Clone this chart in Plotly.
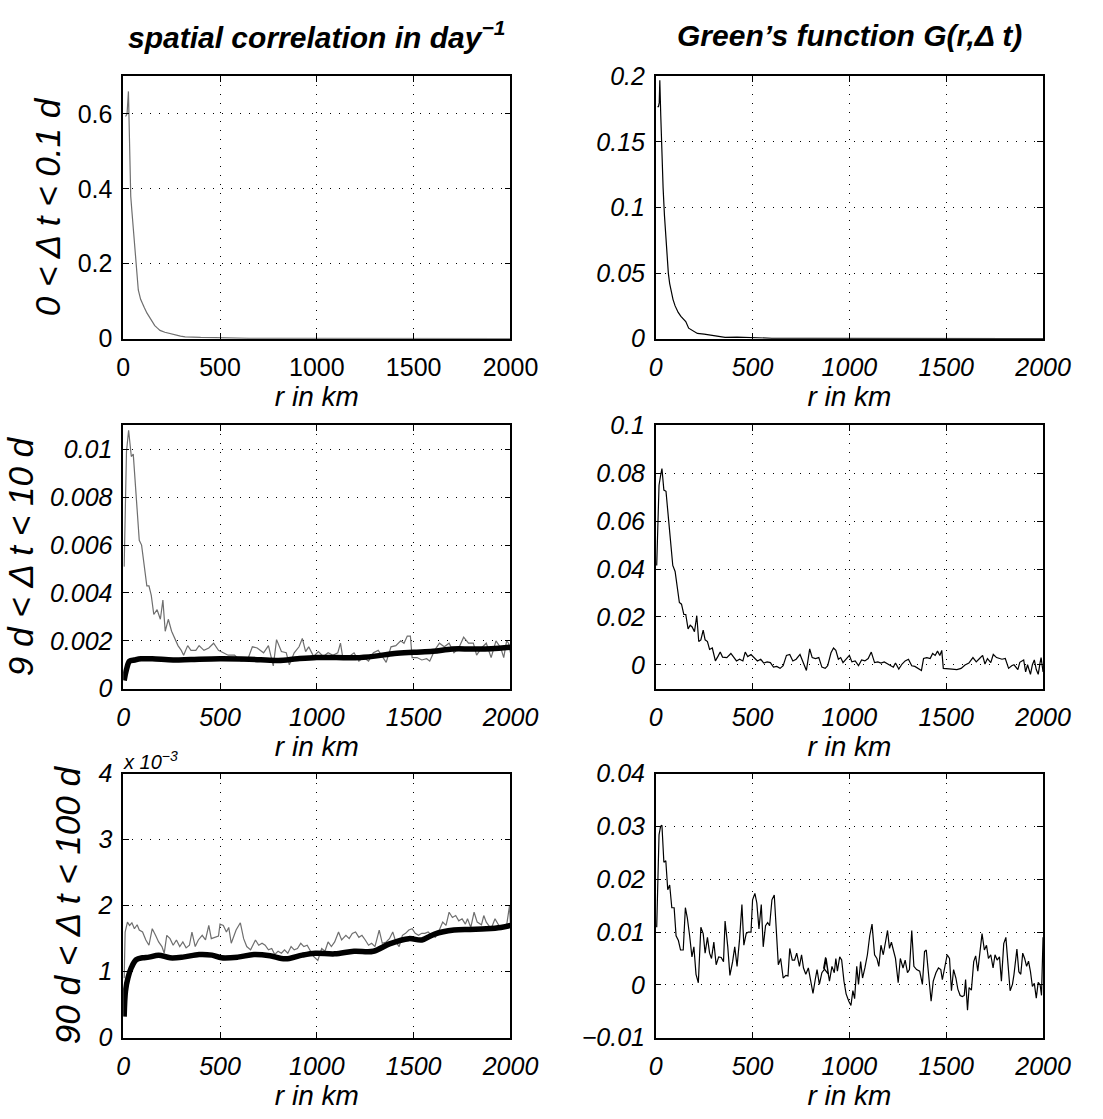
import plotly.graph_objects as go
from plotly.subplots import make_subplots

# ---------------- data ----------------
# Row 1 (0 < dt < 0.1 d)
r_row1_corr = [12, 20, 27, 33, 39, 45, 51, 58, 66, 72, 78, 90, 100, 110, 123, 137, 150, 163, 177, 190, 215, 243, 270, 296, 320, 350, 400, 474, 550, 650, 800, 1000, 1200, 1400, 1600, 1800, 2000]
corr_row1 = [0.593, 0.60, 0.66, 0.50, 0.38, 0.34, 0.30, 0.25, 0.20, 0.16, 0.13, 0.105, 0.092, 0.082, 0.068, 0.056, 0.046, 0.035, 0.028, 0.022, 0.017, 0.013, 0.010, 0.007, 0.005, 0.004, 0.0035, 0.003, 0.002, 0.001, 0.0007, 0.0005, 0.0004, 0.0004, 0.0003, 0.0003, 0.0003]
r_row1_g = [9, 14, 18, 21, 26, 32, 38, 45, 52, 59, 65, 72, 80, 89, 100, 116, 130, 143, 155, 170, 190, 215, 250, 286, 320, 358, 420, 500, 600, 800, 1000, 1200, 1400, 1600, 1800, 2000]
g_row1 = [0.177, 0.177, 0.180, 0.197, 0.170, 0.136, 0.115, 0.094, 0.075, 0.059, 0.050, 0.042, 0.036, 0.030, 0.025, 0.020, 0.017, 0.015, 0.013, 0.008, 0.006, 0.004, 0.0035, 0.0025, 0.002, 0.001, 0.0012, 0.0007, 0.0003, 0.0002, 0.0001, 0.0001, 0.0001, 0.0001, 0.0001, 0.0001]

# Row 2 (9 d < dt < 10 d)
r_row2_corr = [5, 17, 28, 42, 52, 67, 83, 95, 108, 122, 133, 145, 158, 175, 192, 205, 217, 233, 250, 267, 283, 300, 312, 333, 350, 375, 392, 417, 442, 467, 492, 517, 542, 575, 608, 642, 667, 692, 725, 750, 775, 792, 817, 842, 858, 883, 908, 925, 942, 958, 983, 1008, 1033, 1058, 1083, 1108, 1122, 1133, 1167, 1192, 1217, 1242, 1267, 1292, 1317, 1342, 1358, 1383, 1408, 1433, 1450, 1467, 1483, 1492, 1517, 1542, 1567, 1583, 1608, 1633, 1658, 1683, 1708, 1733, 1758, 1783, 1808, 1825, 1850, 1875, 1900, 1925, 1950, 1965, 1980, 1990, 2000]
corr_row2 = [0.0051, 0.0099, 0.0108, 0.0097, 0.0098, 0.0079, 0.0062, 0.0060, 0.0052, 0.0043, 0.0043, 0.0039, 0.0031, 0.0033, 0.0029, 0.0037, 0.0024, 0.0029, 0.0024, 0.0021, 0.0018, 0.0016, 0.0014, 0.0018, 0.0016, 0.0016, 0.0018, 0.0016, 0.0017, 0.0019, 0.0016, 0.0015, 0.0014, 0.0014, 0.00115, 0.0012, 0.00175, 0.0017, 0.0015, 0.0018, 0.00095, 0.00205, 0.00155, 0.0015, 0.0010, 0.0015, 0.00175, 0.0021, 0.00155, 0.00175, 0.00135, 0.00155, 0.00135, 0.0015, 0.0014, 0.0015, 0.0019, 0.00135, 0.00135, 0.0015, 0.00115, 0.0013, 0.00115, 0.0015, 0.0016, 0.0013, 0.0011, 0.00175, 0.0018, 0.0020, 0.0019, 0.0022, 0.0022, 0.0013, 0.0013, 0.0012, 0.00125, 0.00115, 0.0016, 0.0019, 0.00175, 0.0019, 0.0015, 0.0017, 0.00215, 0.0019, 0.0019, 0.0014, 0.0017, 0.0019, 0.0013, 0.0020, 0.0017, 0.0013, 0.0020, 0.0019, 0.0015]
r_row2_smooth = [5, 17, 33, 58, 92, 150, 258, 350, 500, 650, 800, 900, 1000, 1100, 1200, 1300, 1400, 1500, 1600, 1700, 1800, 1900, 2000]
smooth_row2 = [0.00034, 0.0008, 0.00115, 0.0012, 0.00125, 0.00125, 0.0012, 0.00122, 0.00125, 0.00123, 0.00118, 0.00125, 0.0013, 0.0013, 0.00129, 0.00136, 0.00147, 0.00152, 0.00156, 0.00166, 0.00166, 0.00167, 0.00173]
r_row2_g = [5, 17, 25, 32, 42, 53, 67, 78, 88, 100, 112, 122, 133, 145, 155, 167, 178, 188, 200, 212, 222, 233, 245, 255, 267, 278, 292, 308, 322, 333, 345, 367, 388, 405, 417, 433, 450, 462, 475, 492, 508, 525, 542, 558, 575, 592, 608, 625, 642, 658, 675, 692, 708, 725, 745, 767, 778, 795, 808, 825, 842, 858, 875, 888, 905, 918, 930, 943, 955, 967, 983, 1000, 1013, 1030, 1047, 1063, 1080, 1097, 1113, 1130, 1147, 1163, 1180, 1197, 1213, 1227, 1238, 1255, 1272, 1288, 1305, 1322, 1338, 1355, 1372, 1383, 1400, 1417, 1430, 1443, 1455, 1467, 1477, 1485, 1505, 1530, 1555, 1577, 1597, 1617, 1638, 1655, 1672, 1688, 1700, 1713, 1730, 1743, 1760, 1788, 1805, 1822, 1838, 1850, 1870, 1880, 1900, 1910, 1920, 1935, 1945, 1955, 1965, 1975, 1985, 1990, 2000]
g_row2 = [0.0415, 0.075, 0.079, 0.082, 0.073, 0.0725, 0.060, 0.051, 0.0415, 0.039, 0.032, 0.026, 0.0253, 0.021, 0.021, 0.015, 0.0165, 0.0158, 0.0138, 0.0205, 0.0097, 0.0104, 0.0145, 0.0104, 0.0097, 0.0064, 0.007, 0.0016, 0.0036, 0.0053, 0.0032, 0.003, 0.0047, 0.003, 0.0016, 0.0023, 0.0016, 0.0053, 0.0034, 0.0043, 0.003, 0.0016, 0.0023, 0.0007, 0.0012, 0.0009, -0.001, -0.0007, -0.0015, -0.0004, 0.0039, 0.0043, 0.0016, 0.0023, 0.0043, -0.0004, -0.0024, 0.0066, 0.003, 0.0026, 0.003, -0.001, -0.0015, -0.0004, 0.005, 0.007, 0.006, 0.0023, 0.003, 0.0009, 0.0023, 0.0039, 0.0012, 0.0016, -0.0004, 0.002, 0.0016, 0.0026, 0.0053, 0.0009, 0.0012, 0.0007, 0.0012, 0.0003, -0.0004, -0.001, 0.0007, -0.0018, 0.0003, 0.0016, 0.0023, -0.0004, -0.0007, -0.0015, -0.0024, 0.0026, 0.003, 0.0026, 0.0047, 0.0039, 0.0057, 0.0039, 0.006, -0.0015, -0.0015, -0.0018, -0.002, -0.0015, -0.0001, 0.0007, 0.003, 0.0012, 0.0026, 0.0039, 0.0003, 0.0026, 0.0009, 0.0043, 0.003, 0.0023, 0.0026, -0.0015, -0.0004, 0.0, -0.002, 0.001, 0.002, -0.003, 0.0, -0.004, 0.0, 0.002, -0.002, -0.004, 0.001, 0.003, -0.003]

# Row 3 (90 d < dt < 100 d); correlation in units of 1e-3
r_row3_corr = [5, 10, 22, 33, 45, 58, 72, 83, 100, 117, 133, 150, 167, 183, 200, 212, 225, 242, 258, 275, 292, 308, 325, 342, 355, 372, 388, 408, 425, 442, 455, 475, 492, 500, 517, 533, 545, 558, 583, 605, 622, 638, 658, 683, 700, 717, 733, 750, 767, 783, 800, 817, 833, 850, 867, 883, 900, 917, 933, 950, 967, 983, 1005, 1025, 1042, 1058, 1075, 1092, 1112, 1128, 1150, 1167, 1183, 1200, 1217, 1233, 1250, 1267, 1283, 1300, 1322, 1338, 1358, 1375, 1392, 1408, 1425, 1442, 1458, 1475, 1492, 1508, 1525, 1542, 1558, 1575, 1592, 1612, 1628, 1650, 1667, 1683, 1700, 1717, 1733, 1750, 1767, 1778, 1795, 1812, 1828, 1850, 1862, 1875, 1900, 1920, 1940, 1960, 1980, 1995, 2000]
corr_row3 = [0.9, 1.6, 1.75, 1.70, 1.74, 1.65, 1.71, 1.63, 1.60, 1.48, 1.40, 1.65, 1.55, 1.45, 1.38, 1.28, 1.55, 1.50, 1.40, 1.48, 1.38, 1.45, 1.36, 1.40, 1.60, 1.38, 1.48, 1.55, 1.48, 1.70, 1.50, 1.52, 1.54, 1.72, 1.70, 1.60, 1.67, 1.43, 1.63, 1.74, 1.50, 1.38, 1.33, 1.48, 1.40, 1.43, 1.40, 1.33, 1.35, 1.26, 1.31, 1.28, 1.33, 1.28, 1.38, 1.33, 1.35, 1.43, 1.38, 1.40, 1.31, 1.23, 1.17, 1.35, 1.31, 1.45, 1.38, 1.45, 1.60, 1.48, 1.55, 1.50, 1.58, 1.60, 1.52, 1.55, 1.48, 1.40, 1.43, 1.38, 1.63, 1.43, 1.45, 1.50, 1.60, 1.45, 1.38, 1.55, 1.58, 1.63, 1.65, 1.58, 1.55, 1.58, 1.58, 1.60, 1.55, 1.52, 1.60, 1.75, 1.70, 1.90, 1.82, 1.85, 1.77, 1.80, 1.72, 1.80, 1.67, 1.90, 1.75, 1.71, 1.85, 1.75, 1.65, 1.80, 1.70, 1.65, 1.70, 2.0, 1.70]
r_row3_smooth = [5, 12, 25, 42, 67, 100, 133, 183, 242, 308, 392, 458, 508, 592, 675, 758, 817, 858, 925, 992, 1092, 1192, 1292, 1375, 1475, 1542, 1608, 1708, 1792, 1875, 1950, 2000]
smooth_row3 = [0.32, 0.71, 0.91, 1.06, 1.18, 1.21, 1.22, 1.25, 1.21, 1.22, 1.26, 1.25, 1.21, 1.22, 1.26, 1.24, 1.20, 1.20, 1.25, 1.28, 1.27, 1.31, 1.31, 1.42, 1.50, 1.48, 1.57, 1.63, 1.64, 1.65, 1.67, 1.70]
r_row3_g = [5, 17, 25, 32, 42, 52, 62, 72, 83, 95, 105, 117, 128, 142, 153, 163, 175, 187, 197, 208, 220, 233, 245, 255, 267, 278, 288, 300, 312, 325, 338, 350, 358, 372, 383, 397, 408, 420, 433, 445, 455, 467, 478, 492, 500, 512, 522, 533, 545, 555, 567, 578, 588, 600, 612, 625, 633, 645, 658, 672, 683, 692, 705, 717, 728, 742, 753, 763, 775, 788, 800, 812, 825, 833, 845, 858, 870, 880, 892, 867, 877, 888, 897, 910, 922, 930, 938, 950, 960, 972, 983, 997, 1008, 1018, 1027, 1038, 1047, 1058, 1068, 1080, 1093, 1105, 1117, 1130, 1142, 1152, 1163, 1175, 1185, 1197, 1207, 1217, 1227, 1238, 1252, 1263, 1277, 1288, 1300, 1310, 1322, 1333, 1347, 1363, 1377, 1388, 1397, 1410, 1422, 1433, 1447, 1460, 1472, 1480, 1493, 1505, 1517, 1527, 1538, 1550, 1560, 1572, 1583, 1593, 1600, 1610, 1618, 1630, 1642, 1652, 1663, 1675, 1685, 1697, 1708, 1718, 1730, 1742, 1752, 1763, 1775, 1785, 1797, 1808, 1818, 1830, 1842, 1850, 1865, 1875, 1885, 1895, 1905, 1915, 1925, 1935, 1945, 1955, 1965, 1975, 1985, 1992, 2000]
g_row3 = [0.0109, 0.0284, 0.030, 0.0302, 0.0232, 0.0235, 0.018, 0.0189, 0.0146, 0.0146, 0.0093, 0.0084, 0.0066, 0.0066, 0.0146, 0.0127, 0.0093, 0.0053, 0.0072, 0.002, 0.0004, 0.0109, 0.0097, 0.006, 0.009, 0.006, 0.005, 0.0081, 0.0038, 0.0053, 0.0052, 0.0044, 0.0121, 0.0072, 0.0018, 0.0044, 0.0072, 0.0035, 0.0087, 0.0152, 0.0075, 0.0097, 0.010, 0.010, 0.0161, 0.0173, 0.0155, 0.0106, 0.0152, 0.0072, 0.0112, 0.0118, 0.0112, 0.0161, 0.017, 0.0093, 0.0038, 0.005, 0.0013, 0.0018, 0.0017, 0.0069, 0.0047, 0.0047, 0.006, 0.0035, 0.0057, 0.0032, 0.002, 0.0032, 0.0007, -0.0016, 0.0013, 0.0029, 0.0001, 0.0023, 0.0029, 0.005, 0.002, 0.0032, 0.0052, 0.0026, 0.0007, 0.0035, 0.0023, 0.005, 0.0026, 0.0053, 0.0047, 0.0007, -0.0017, -0.0031, -0.0039, -0.0011, -0.0026, 0.0035, 0.0001, 0.0044, 0.0013, 0.0032, 0.0057, 0.0093, 0.0115, 0.0057, 0.005, 0.0035, 0.0075, 0.0057, 0.0081, 0.0103, 0.0069, 0.0081, 0.0066, 0.005, 0.0004, 0.005, 0.0032, 0.0047, 0.0023, 0.0029, 0.0103, 0.0035, 0.0029, 0.0026, 0.0001, 0.0063, 0.0066, 0.0007, -0.0031, 0.0007, 0.0023, 0.0032, 0.0029, 0.001, 0.0035, 0.0057, 0.005, -0.0011, 0.0029, 0.0013, -0.0008, -0.002, -0.0022, -0.002, 0.001, -0.0048, -0.0005, -0.001, 0.0044, 0.0055, 0.0026, 0.0063, 0.0097, 0.0066, 0.0075, 0.005, 0.0057, 0.0032, 0.0057, 0.0047, 0.0053, 0.0007, 0.0078, 0.009, 0.0038, -0.0011, 0.0001, 0.002, 0.0068, 0.0025, 0.002, 0.006, 0.005, 0.0035, 0.0045, 0.0025, -0.0003, 0.0003, -0.0025, 0.0005, 0.0, -0.002, 0.009]

row_labels = ["0 < Δ t < 0.1 d", "9 d < Δ t < 10 d", "90 d < Δ t < 100 d"]
col_titles = ["spatial correlation in day<sup>−1</sup>", "Green’s function G(r,Δ t)"]
x_ticks = [0, 500, 1000, 1500, 2000]

# ---------------- figure ----------------
W, H = 1103, 1119
fig = make_subplots(rows=3, cols=2)

GRAY = "#6e6e6e"
FONT = "Liberation Sans"

# left column
fig.add_trace(go.Scatter(x=r_row1_corr, y=corr_row1, mode="lines", line=dict(color=GRAY, width=1.2)), row=1, col=1)
fig.add_trace(go.Scatter(x=r_row2_corr, y=corr_row2, mode="lines", line=dict(color=GRAY, width=1.2)), row=2, col=1)
fig.add_trace(go.Scatter(x=r_row2_smooth, y=smooth_row2, mode="lines", line=dict(color="black", width=5.5, shape="spline")), row=2, col=1)
fig.add_trace(go.Scatter(x=r_row3_corr, y=corr_row3, mode="lines", line=dict(color=GRAY, width=1.2)), row=3, col=1)
fig.add_trace(go.Scatter(x=r_row3_smooth, y=smooth_row3, mode="lines", line=dict(color="black", width=5.5, shape="spline")), row=3, col=1)
# right column
fig.add_trace(go.Scatter(x=r_row1_g, y=g_row1, mode="lines", line=dict(color="black", width=1.2)), row=1, col=2)
fig.add_trace(go.Scatter(x=r_row2_g, y=g_row2, mode="lines", line=dict(color="black", width=1.2)), row=2, col=2)
fig.add_trace(go.Scatter(x=r_row3_g, y=g_row3, mode="lines", line=dict(color="black", width=1.2)), row=3, col=2)

# axis pixel boxes (left, right) and (top, bottom)
xdom_px = [(120, 520), (670, 1070)]
ydom_px = [(64, 333), (422, 692), (779, 1050)]

yranges = {
    (1, 1): ([0, 0.7], [0, 0.2, 0.4, 0.6], ["0", "0.2", "0.4", "0.6"]),
    (2, 1): ([0, 0.011], [0, 0.002, 0.004, 0.006, 0.008, 0.01], ["0", "0.002", "0.004", "0.006", "0.008", "0.01"]),
    (3, 1): ([0, 4], [0, 1, 2, 3, 4], ["0", "1", "2", "3", "4"]),
    (1, 2): ([0, 0.2], [0, 0.05, 0.1, 0.15, 0.2], ["0", "0.05", "0.1", "0.15", "0.2"]),
    (2, 2): ([-0.01, 0.1], [0, 0.02, 0.04, 0.06, 0.08, 0.1], ["0", "0.02", "0.04", "0.06", "0.08", "0.1"]),
    (3, 2): ([-0.01, 0.04], [-0.01, 0, 0.01, 0.02, 0.03, 0.04], ["−0.01", "0", "0.01", "0.02", "0.03", "0.04"]),
}

axis_common = dict(
    showline=True, linecolor="black", linewidth=1.5, mirror="ticks",
    ticks="inside", ticklen=6, tickwidth=1, tickcolor="black",
    showgrid=True, gridcolor="black", gridwidth=1, griddash="1px,8px",
    zeroline=False,
)

for r in range(1, 4):
    for c in range(1, 3):
        idx = (r - 1) * 2 + c
        xs = "xaxis" if idx == 1 else f"xaxis{idx}"
        ys = "yaxis" if idx == 1 else f"yaxis{idx}"
        italic = not (r == 1 and c == 1)
        tf = dict(family=FONT, size=25, color="black", style="italic" if italic else "normal")
        x0, x1 = xdom_px[c - 1]
        yt, yb = ydom_px[r - 1]
        yr, tv, tt = yranges[(r, c)]
        fig.layout[xs].update(
            domain=[x0 / W, x1 / W], range=[0, 2000], tickvals=x_ticks,
            ticktext=[str(v) for v in x_ticks], tickfont=tf, ticklabelstandoff=6,
            title=dict(text="r in km", font=dict(family=FONT, size=28, color="black", style="italic"), standoff=6),
            **axis_common,
        )
        fig.layout[ys].update(
            domain=[1 - yb / H, 1 - yt / H], range=yr, tickvals=tv, ticktext=tt,
            tickfont=tf, ticklabelstandoff=4, **axis_common,
        )
        if c == 1:
            fig.layout[ys].title = dict(text=row_labels[r - 1], font=dict(family=FONT, size=35, color="black", style="italic"), standoff=6)

# column titles
for c, txt in enumerate(col_titles):
    x0, x1 = xdom_px[c]
    fig.add_annotation(
        text=f"<b><i>{txt}</i></b>", x=(x0 + x1) / 2 / W, y=1 - 22 / H,
        xref="paper", yref="paper", showarrow=False, xanchor="center", yanchor="middle",
        font=dict(family=FONT, size=30, color="black"),
    )

# exponent label for bottom-left axes
fig.add_annotation(
    text="<i>x 10<sup>−3</sup></i>", x=118 / W, y=1 - 766 / H, xref="paper", yref="paper",
    showarrow=False, xanchor="left", yanchor="middle", font=dict(family=FONT, size=20, color="black"),
)

fig.update_layout(
    width=W, height=H, margin=dict(l=0, r=0, t=0, b=0),
    paper_bgcolor="white", plot_bgcolor="white", showlegend=False,
    font=dict(family=FONT, color="black"),
)

fig.write_html("out.html")
